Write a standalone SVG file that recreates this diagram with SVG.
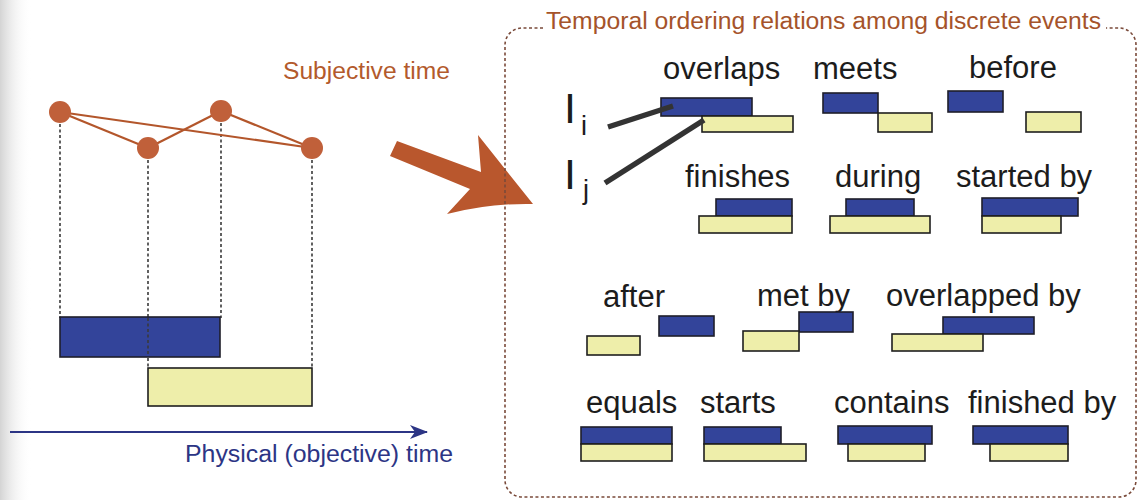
<svg xmlns="http://www.w3.org/2000/svg" width="1138" height="500" viewBox="0 0 1138 500">
  <defs>
    <linearGradient id="shade" x1="0" y1="0" x2="1" y2="0">
      <stop offset="0" stop-color="#d4d4d4"/>
      <stop offset="1" stop-color="#ffffff" stop-opacity="0"/>
    </linearGradient>
    <marker id="navyHead" viewBox="0 0 18 14" refX="17" refY="7" markerWidth="18" markerHeight="14" markerUnits="userSpaceOnUse" orient="auto">
      <path d="M0,0 L18,7 L0,14 L5,7 Z" fill="#2c3585"/>
    </marker>
    <style>
      .lbl { font-family: "Liberation Sans", Arial, sans-serif; font-size: 31px; fill: #1c1c1c; }
      .blue { fill: #33449a; stroke: #1e1e2a; stroke-width: 1.6; }
      .yel { fill: #eeeeaa; stroke: #1e1e1e; stroke-width: 1.6; }
      .drop { stroke: #3a3a3a; stroke-width: 1.6; stroke-dasharray: 3 2.5; fill: none; }
      .edge { stroke: #b3562b; stroke-width: 2.2; fill: none; }
      .node { fill: #c0603a; }
      .ptr { stroke: #333333; stroke-width: 5.5; stroke-linecap: butt; }
      .sub { font-family: "Liberation Sans", Arial, sans-serif; fill: #1c1c1c; }
    </style>
  </defs>

  <rect x="0" y="0" width="1138" height="500" fill="#ffffff"/>
  <rect x="0" y="0" width="32" height="500" fill="url(#shade)"/>

  <!-- Left panel: subjective time graph -->
  <text x="283" y="79" font-family="Liberation Sans, Arial, sans-serif" font-size="23" fill="#b35a2c" textLength="167" lengthAdjust="spacingAndGlyphs">Subjective time</text>

  <g id="drops">
    <line class="drop" x1="60" y1="124" x2="60" y2="318"/>
    <line class="drop" x1="148" y1="160" x2="148" y2="369"/>
    <line class="drop" x1="221" y1="123" x2="221" y2="318"/>
    <line class="drop" x1="312" y1="160" x2="312" y2="369"/>
  </g>

  <g id="connectors">
    <line class="edge" x1="60" y1="112" x2="148" y2="148"/>
    <line class="edge" x1="148" y1="148" x2="221" y2="111"/>
    <line class="edge" x1="221" y1="111" x2="312" y2="148"/>
    <line class="edge" x1="60" y1="112" x2="312" y2="148"/>
  </g>

  <g id="node-e1"><circle class="node" cx="60" cy="112" r="11"/></g>
  <g id="node-e2"><circle class="node" cx="148" cy="148" r="11"/></g>
  <g id="node-e3"><circle class="node" cx="221" cy="111" r="11"/></g>
  <g id="node-e4"><circle class="node" cx="312" cy="148" r="11"/></g>

  <g id="interval-i-left"><rect class="blue" x="60" y="317" width="160" height="40"/></g>
  <g id="interval-j-left"><rect class="yel" x="148" y="368" width="164" height="38"/></g>
  <line class="drop" x1="148" y1="318" x2="148" y2="356" stroke="#333"/>

  <g id="physical-axis">
    <line x1="10" y1="432" x2="427" y2="432" stroke="#2c3585" stroke-width="2" marker-end="url(#navyHead)"/>
    <text x="185" y="462" font-family="Liberation Sans, Arial, sans-serif" font-size="23" fill="#2c3585" textLength="268" lengthAdjust="spacingAndGlyphs">Physical (objective) time</text>
  </g>

  <!-- Big arrow -->
  <g id="big-arrow">
    <path d="M397,141 L481,172 L478,135 L533,204 Q490,203 447,214 L470,189 L390,156 Z" fill="#b9572d"/>
  </g>

  <!-- Right panel frame -->
  <g id="frame">
    <path d="M543,28 H522 A17,17 0 0 0 505,45 V480 A17,17 0 0 0 522,497 H1119 A17,17 0 0 0 1136,480 V45 A17,17 0 0 0 1119,28 H1106" fill="none" stroke="#7a4a3a" stroke-width="1.6" stroke-dasharray="3 2.5"/>
    <text x="546" y="29" font-family="Liberation Sans, Arial, sans-serif" font-size="23" fill="#a5532a" textLength="555" lengthAdjust="spacingAndGlyphs">Temporal ordering relations among discrete events</text>
  </g>

  <!-- I_i / I_j legend -->
  <g id="legend-Ii">
    <text class="sub" x="564" y="123" font-size="43">I</text>
    <text class="sub" x="581" y="135" font-size="27">i</text>
  </g>
  <g id="legend-Ij">
    <text class="sub" x="564" y="189" font-size="43">I</text>
    <text class="sub" x="583" y="199" font-size="27">j</text>
  </g>

  <!-- Row 1 -->
  <g id="rel-overlaps">
    <text class="lbl" x="663" y="79">overlaps</text>
    <rect class="blue" x="661" y="98" width="91" height="18"/>
    <rect class="yel" x="702" y="116" width="91" height="16"/>
  </g>
  <g id="pointers">
    <line class="ptr" x1="608" y1="127" x2="673" y2="106"/>
    <line class="ptr" x1="605" y1="183" x2="704" y2="120"/>
  </g>
  <g id="rel-meets">
    <text class="lbl" x="813" y="79">meets</text>
    <rect class="blue" x="823" y="93" width="55" height="20"/>
    <rect class="yel" x="878" y="113" width="54" height="19"/>
  </g>
  <g id="rel-before">
    <text class="lbl" x="969" y="78">before</text>
    <rect class="blue" x="948" y="91" width="55" height="21"/>
    <rect class="yel" x="1026" y="112" width="55" height="20"/>
  </g>

  <!-- Row 2 -->
  <g id="rel-finishes">
    <text class="lbl" x="685" y="187">finishes</text>
    <rect class="blue" x="716" y="199" width="76" height="17"/>
    <rect class="yel" x="699" y="216" width="93" height="17"/>
  </g>
  <g id="rel-during">
    <text class="lbl" x="835" y="187">during</text>
    <rect class="blue" x="846" y="199" width="68" height="17"/>
    <rect class="yel" x="830" y="216" width="100" height="17"/>
  </g>
  <g id="rel-started-by">
    <text class="lbl" x="956" y="187">started by</text>
    <rect class="blue" x="982" y="198" width="96" height="18"/>
    <rect class="yel" x="982" y="216" width="79" height="17"/>
  </g>

  <!-- Row 3 -->
  <g id="rel-after">
    <text class="lbl" x="603" y="307">after</text>
    <rect class="blue" x="659" y="316" width="55" height="20"/>
    <rect class="yel" x="587" y="336" width="53" height="19"/>
  </g>
  <g id="rel-met-by">
    <text class="lbl" x="757" y="306">met by</text>
    <rect class="blue" x="799" y="312" width="54" height="20"/>
    <rect class="yel" x="743" y="331" width="56" height="20"/>
  </g>
  <g id="rel-overlapped-by">
    <text class="lbl" x="886" y="306">overlapped by</text>
    <rect class="blue" x="943" y="317" width="91" height="17"/>
    <rect class="yel" x="892" y="334" width="91" height="17"/>
  </g>

  <!-- Row 4 -->
  <g id="rel-equals">
    <text class="lbl" x="586" y="413">equals</text>
    <rect class="blue" x="581" y="427" width="91" height="17"/>
    <rect class="yel" x="581" y="444" width="91" height="17"/>
  </g>
  <g id="rel-starts">
    <text class="lbl" x="700" y="413">starts</text>
    <rect class="blue" x="704" y="427" width="77" height="17"/>
    <rect class="yel" x="704" y="444" width="102" height="17"/>
  </g>
  <g id="rel-contains">
    <text class="lbl" x="834" y="413">contains</text>
    <rect class="blue" x="838" y="426" width="94" height="18"/>
    <rect class="yel" x="848" y="444" width="77" height="17"/>
  </g>
  <g id="rel-finished-by">
    <text class="lbl" x="968" y="413">finished by</text>
    <rect class="blue" x="973" y="426" width="95" height="18"/>
    <rect class="yel" x="990" y="444" width="78" height="17"/>
  </g>
</svg>
